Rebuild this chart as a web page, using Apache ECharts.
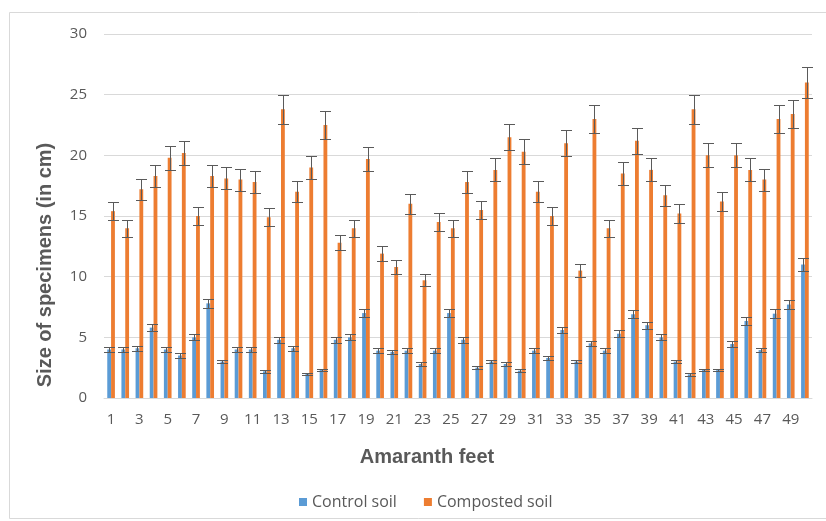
<!DOCTYPE html>
<html>
<head>
<meta charset="utf-8">
<script src="https://cdn.jsdelivr.net/npm/echarts@6/dist/echarts.min.js"></script>
<style>
html,body{margin:0;padding:0;background:#fff;}
#chart{width:826px;height:521px;}
</style>
</head>
<body>
<div id="chart"></div>
<script>
const categories = ['1','2','3','4','5','6','7','8','9','10','11','12','13','14','15','16','17','18','19','20','21','22','23','24','25','26','27','28','29','30','31','32','33','34','35','36','37','38','39','40','41','42','43','44','45','46','47','48','49','50'];
const controlSoil = [4.0,4.0,4.1,5.8,4.0,3.5,5.0,7.8,3.0,4.0,4.0,2.2,4.8,4.1,2.0,2.3,4.8,5.0,7.0,3.9,3.8,3.9,2.8,3.9,7.0,4.8,2.5,3.0,2.8,2.25,3.9,3.3,5.6,3.0,4.5,3.9,5.3,6.9,6.0,5.0,3.0,1.95,2.3,2.3,4.45,6.35,3.95,6.95,7.7,11.0];
const compostedSoil = [15.4,14.0,17.2,18.3,19.8,20.2,15.0,18.3,18.1,18.0,17.8,14.9,23.8,17.0,19.0,22.5,12.8,14.0,19.7,11.9,10.8,16.0,9.7,14.5,14.0,17.8,15.5,18.8,21.5,20.3,17.0,15.0,21.0,10.5,23.0,14.0,18.5,21.2,18.8,16.7,15.2,23.8,20.0,16.2,20.0,18.8,18.0,23.0,23.4,26.0];
const yTicks = [0,5,10,15,20,25,30];
const errorPercent = 5; // Excel "Percentage" error bar setting

const BAR_W = 0.27;
function errRender(sign){
  return function(params, api){
    const i = api.value(0), v = api.value(1);
    const band = api.size([1,0])[0];
    const dx = sign*band*BAR_W/2;
    const e = v*errorPercent/100;
    const t = api.coord([i, v+e]);
    const b = api.coord([i, v-e]);
    const x = Math.round(t[0]+dx)+0.5;
    const yt = Math.round(t[1])+0.5, yb = Math.round(b[1])+0.5;
    const hw = 5.5;
    const st = {stroke:'#5a5a5a', lineWidth:1};
    return {type:'group', children:[
      {type:'line', shape:{x1:x,y1:yt,x2:x,y2:yb}, style:st},
      {type:'line', shape:{x1:x-hw,y1:yt,x2:x+hw,y2:yt}, style:st},
      {type:'line', shape:{x1:x-hw,y1:yb,x2:x+hw,y2:yb}, style:st}
    ]};
  };
}

const chart = echarts.init(document.getElementById('chart'), null, {renderer:'canvas'});
const font = "'Open Sans', 'Liberation Sans', sans-serif";
chart.setOption({
  animation:false,
  backgroundColor:'#fff',
  textStyle:{fontFamily:font},
  grid:{left:104, right:14, top:34, bottom:123, containLabel:false},
  legend:{
    data:['Control soil','Composted soil'],
    left:294, top:489,
    icon:'rect', itemWidth:8, itemHeight:8, itemGap:27,
    textStyle:{color:'#595959', fontSize:16, fontFamily:font}
  },
  graphic:[
    {type:'rect', silent:true, z:-1, shape:{x:9.5,y:12.5,width:850,height:506}, style:{fill:'none', stroke:'#d9d9d9', lineWidth:1}},
    {type:'text', silent:true, x:427, y:457, style:{text:'Amaranth feet', x:0, y:0, align:'center', verticalAlign:'middle', fill:'#595959', font:"bold 20px 'Liberation Sans', Arial, sans-serif"}},
    {type:'text', silent:true, rotation:Math.PI/2, x:45, y:265, style:{text:'Size of specimens (in cm)', x:0, y:0, align:'center', verticalAlign:'middle', fill:'#595959', font:"bold 20px 'Liberation Sans', Arial, sans-serif"}}
  ],
  xAxis:{
    type:'category', data:categories,
    axisLine:{lineStyle:{color:'#d9d9d9'}},
    axisTick:{show:false},
    axisLabel:{interval:1, color:'#595959', fontSize:15, margin:14, fontFamily:font}
  },
  yAxis:{
    type:'value', min:0, max:30, interval:5,
    axisLine:{show:false}, axisTick:{show:false},
    splitLine:{lineStyle:{color:'#d9d9d9'}},
    axisLabel:{color:'#595959', fontSize:15, margin:17, fontFamily:font}
  },
  series:[
    {name:'Control soil', type:'bar', data:controlSoil, barWidth:(BAR_W*100)+'%', barGap:'0%', itemStyle:{color:'#5B9BD5'}},
    {name:'Composted soil', type:'bar', data:compostedSoil, barWidth:(BAR_W*100)+'%', barGap:'0%', itemStyle:{color:'#ED7D31'}},
    {name:'errC', type:'custom', renderItem:errRender(-1), data:controlSoil.map((v,i)=>[i,v]), z:5, silent:true},
    {name:'errO', type:'custom', renderItem:errRender(1), data:compostedSoil.map((v,i)=>[i,v]), z:5, silent:true}
  ]
});
</script>
</body>
</html>
